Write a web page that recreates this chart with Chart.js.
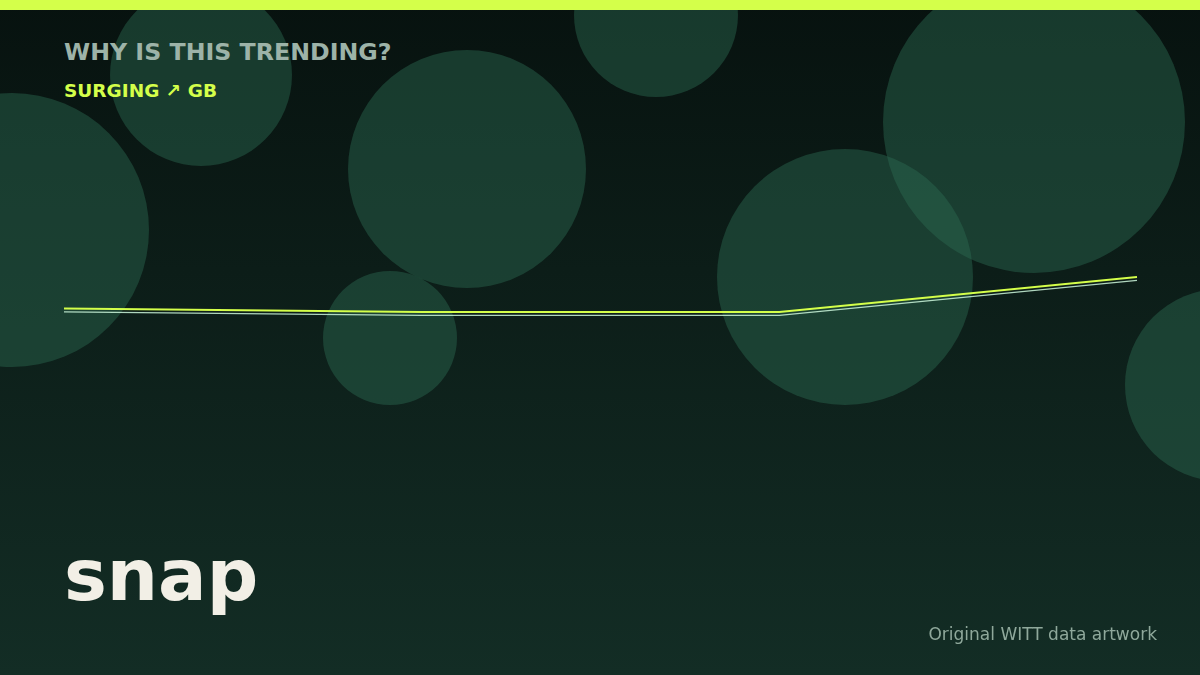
<!DOCTYPE html>
<html>
<head>
<meta charset="utf-8">
<script src="https://cdn.jsdelivr.net/npm/chart.js@4.4.1/dist/chart.umd.min.js"></script>
<style>
    html, body { margin: 0; padding: 0; }
    body {
        width: 1200px; height: 675px; overflow: hidden; position: relative;
        background: linear-gradient(180deg, #07120f 0%, #0c1d18 40%, #132d25 100%);
        font-family: "DejaVu Sans", sans-serif;
    }
    .topbar { position: absolute; left: 0; top: 0; width: 1200px; height: 10px; background: #d4ff4a; }
    .blob { position: absolute; border-radius: 50%; background: rgba(45, 107, 82, 0.45); }
    .kicker { position: absolute; left: 64px; top: 38px; font-size: 23.7px; font-weight: bold; color: #9db3a8; }
    .status { position: absolute; left: 64px; top: 80px; font-size: 18.5px; font-weight: bold; color: #d4ff4a; }
    .term { position: absolute; left: 64px; top: 533px; font-size: 72px; font-weight: bold; color: #f2efe6; }
    .credit { position: absolute; right: 43px; top: 624px; font-size: 17px; color: #8fa89b; }
    #wrap { position: absolute; left: 0; top: 0; width: 1200px; height: 675px; }
</style>
</head>
<body>
<div id="blobs"></div>
<div class="topbar"></div>
<div class="kicker">WHY IS THIS TRENDING?</div>
<div class="status">SURGING ↗ GB</div>
<div id="wrap"><canvas id="chartCanvas"></canvas></div>
<div class="term">snap</div>
<div class="credit">Original WITT data artwork</div>
<script>
// search interest, four samples
const periods = ['P1', 'P2', 'P3', 'P4'];
const interest = [12, 11, 11, 21];
const baseline = [11.05, 10.05, 10.05, 20.05];

// background bubbles: [cx, cy, r]
const bubbles = [
    [201, 75, 91], [467, 169, 119], [656, 15, 82], [1034, 122, 151],
    [845, 277, 128], [12, 230, 137], [390, 338, 67], [1221, 385, 96]
];

document.addEventListener('DOMContentLoaded', function() {
    const holder = document.getElementById('blobs');
    bubbles.forEach(b => {
        const d = document.createElement('div');
        d.className = 'blob';
        d.style.left = (b[0] - b[2]) + 'px';
        d.style.top = (b[1] - b[2]) + 'px';
        d.style.width = d.style.height = (b[2] * 2) + 'px';
        holder.appendChild(d);
    });

    const ctx = document.getElementById('chartCanvas').getContext('2d');
    new Chart(ctx, {
        type: 'line',
        data: {
            labels: periods,
            datasets: [{
                label: 'Interest',
                data: interest,
                borderColor: '#d4ff4a',
                borderWidth: 2.2,
                pointRadius: 0,
                tension: 0,
                clip: false
            }, {
                label: 'Baseline',
                data: baseline,
                borderColor: 'rgba(205, 247, 220, 0.85)',
                borderWidth: 1.2,
                pointRadius: 0,
                tension: 0,
                clip: false
            }]
        },
        options: {
            animation: false,
            responsive: true,
            maintainAspectRatio: false,
            layout: { padding: { left: 64, right: 63, top: 210.5, bottom: 324.5 } },
            scales: {
                x: { display: false },
                y: { display: false, min: 0, max: 40 }
            },
            plugins: {
                legend: { display: false },
                tooltip: { enabled: false }
            }
        }
    });
});
</script>
</body>
</html>
